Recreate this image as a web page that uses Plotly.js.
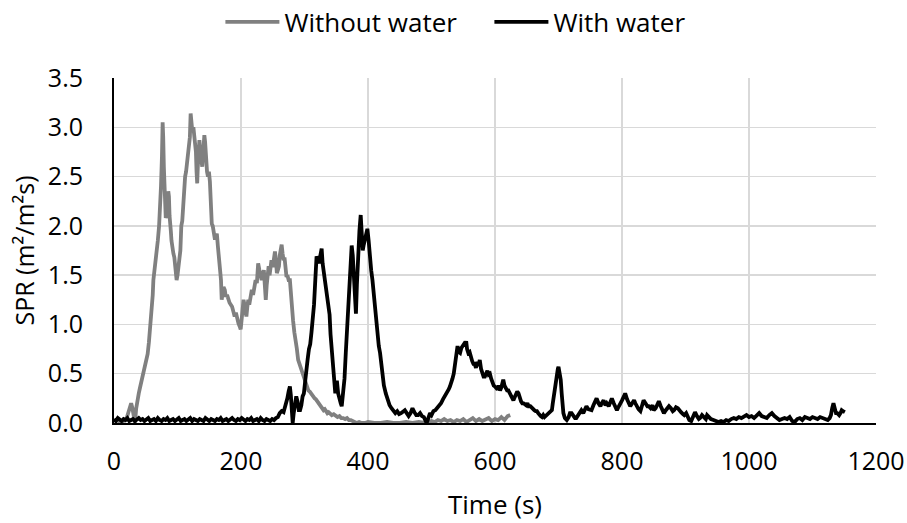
<!DOCTYPE html>
<html>
<head>
<meta charset="utf-8">
<script src="https://cdn.plot.ly/plotly-3.0.1.min.js"></script>
<style>html,body{margin:0;padding:0;background:#fff;}#chart{width:907px;height:523px;}</style>
</head>
<body>
<div id="chart"></div>
<script>
// ---- Data ----
const seriesNames = ["Without water", "With water"];

const tWithout = [0,5,10,15,20,23,25,27,29,31,33,35,37,39,41,43,45,47,49,51,53,55,57,59,61,62,64,66,67,69,71,72.5,74,75.5,76.6,77.5,78.5,79.5,80.5,81.5,82.5,83.5,84.5,85.5,86.5,87.5,88.5,89.5,90.5,92,93.5,95,96.5,97.5,98.6,100,101.5,103,104.5,106,107.5,109,110.5,112,113.5,115,116.5,118,119.5,120.7,122,123.5,125,126.5,128,129,130,131,132,133,134.5,136,137.5,139,140.5,142.3,143.5,145,146.5,148,149.5,151,152.5,154,155.5,157,159,160.5,162,163.5,165,167,168.5,169.6,171,172.5,174.5,176,178,180,182,184,186,188,190,192,194,196,198,199.5,201,202.5,204,205.5,207,208.5,210,211.5,213,215,217,219,221,223,225,227,229,231,232.5,234,236,237.5,239,240.5,242,243.5,245,246.5,248,250,251.5,253.5,255,256.5,258,259.8,261,262.5,264,265.5,267,268.5,270,271.7,273,275,277,278.5,280,282,284,286,288,290,292,294,296,298,300,302,304,306,308,310,312,314,316,318,320,322,324,326,328,330,332,334,336,338,340,343,346,349,352,355,358,361,364,367,370,373,376,379,382,386,390,395,400,410,420,430,440,450,460,470,480,490,500,505,510,515,520,525,530,535,540,545,550,555,560,565,570,575,580,585,590,595,600,605,610,615,620,624];
const sprWithout = [0.02,0.03,0.01,0.02,0.05,0.12,0.18,0.2,0.15,0.05,0.0,0.15,0.25,0.3,0.36,0.42,0.5,0.55,0.58,0.64,0.7,0.82,0.95,1.1,1.3,1.45,1.55,1.7,1.76,1.85,2.0,2.15,2.4,2.7,3.05,2.9,2.6,2.45,2.2,2.08,2.1,2.3,2.25,2.35,2.3,2.1,2.05,1.95,1.85,1.75,1.72,1.68,1.58,1.48,1.45,1.5,1.62,1.72,1.75,2.0,2.05,2.2,2.4,2.5,2.55,2.65,2.8,2.85,2.9,3.14,3.0,2.95,3.0,2.9,2.85,2.75,2.55,2.43,2.6,2.8,2.87,2.75,2.65,2.6,2.75,2.92,2.85,2.65,2.55,2.5,2.55,2.45,2.2,2.02,2.0,1.95,1.86,1.9,1.92,1.8,1.7,1.59,1.45,1.25,1.3,1.38,1.35,1.28,1.3,1.25,1.22,1.2,1.18,1.13,1.08,1.12,1.05,1.01,0.98,0.95,1.05,1.15,1.25,1.2,1.12,1.08,1.18,1.25,1.2,1.3,1.35,1.3,1.4,1.45,1.42,1.62,1.55,1.5,1.45,1.5,1.55,1.4,1.25,1.4,1.55,1.59,1.5,1.6,1.65,1.58,1.65,1.74,1.65,1.52,1.55,1.59,1.7,1.75,1.81,1.72,1.65,1.68,1.55,1.48,1.5,1.45,1.45,1.3,1.15,1.04,0.92,0.85,0.75,0.64,0.6,0.55,0.5,0.47,0.44,0.4,0.37,0.33,0.32,0.3,0.28,0.27,0.25,0.24,0.22,0.2,0.19,0.17,0.15,0.13,0.14,0.12,0.1,0.11,0.1,0.08,0.09,0.07,0.06,0.07,0.05,0.05,0.04,0.05,0.03,0.03,0.02,0.01,0.0,0.01,0.0,0.0,0.01,0.0,0.0,0.01,0.0,0.0,0.01,0.0,0.01,0.0,0.02,0.01,0.03,0.02,0.04,0.02,0.03,0.01,0.03,0.02,0.04,0.01,0.03,0.05,0.02,0.04,0.02,0.03,0.05,0.02,0.04,0.03,0.06,0.03,0.07,0.08];

const tWith = [0,3,6,9,12,15,18,21,24,27,30,33,36,39,42,45,48,51,54,57,60,63,66,69,72,75,78,81,84,87,90,93,96,99,102,105,108,111,114,117,120,123,126,129,132,135,138,141,144,147,150,153,156,159,162,165,168,171,174,177,180,183,186,189,192,195,198,201,204,207,210,213,216,219,222,225,228,231,234,237,240,243,246,249,252,255,258,261,264,267,269,271,273,275,277,278.5,280,281.4,283,285,287,289,291,293,295,297,299,301,303,305,307,309,311,313,315,317,319,321,323,325,327,328.5,330,332,334,336,338,339.5,341,343,345,347,348.5,350,351,353,355,357,358.6,360,361.5,363,365,367,369,371,373,374.3,376,377,378.5,380,381,382.5,384,385,386.5,388.5,390,391.7,393,395,397,399,401,403,405,407,408.5,410,412.6,415,417,419,421,423,425,428,431,434,437,440,443,446,449,452,455,458,461,464,467,470,473,476,479,482,485,488,490,492.4,495,497.6,500,503,506,509,512,515,518,521,524,527,529,531,533,535,537,539,541,543,545,547,549,551,553,554.6,556,558,560,562,564,566,568,570,572,574,576,578,580,582,584,586,588,590,592,594,596,598,600,602,604,606,608,610,612,613,615,617,619,621,623,625,627,629,631,633,635,637,639,641,643,645,647,649,651,653,655.6,658,660,662,664,666,668,670,672,674,676,678,680,682,684,686,688,689.6,691,693,695,697,699,700,701.5,703.5,705,706.5,707.7,710,713,716,718,720.6,723,726,728,731,734,736,739,742,744,747,750,752,755,758,760,763,766,768,771,774,776,779,782,784,787,790,792,795,798,800,803,805,808,811,813,816,819,821,824,826,829,831,834,837,840,842,845,848,850,853,856,858,861,864,866,869,872,874,877,880,882,885,888,890,893,896,898,901,903,906,909,911,913,915,918,921,923,926,929,932,934,937,940,944,948,952,956,960,964,968,972,976,980,984,988,992,996,1000,1004,1008,1012,1016,1020,1024,1028,1032,1036,1040,1044,1048,1052,1056,1060,1064,1068,1072,1076,1080,1084,1088,1092,1096,1100,1104,1108,1112,1116,1120,1124,1127,1129,1131,1133,1135,1137,1139,1142,1144,1146,1148,1151];
const sprWith = [0.04,0.02,0.05,0.03,0.02,0.04,0.03,0.05,0.02,0.03,0.04,0.02,0.03,0.05,0.03,0.04,0.02,0.03,0.05,0.02,0.03,0.04,0.02,0.05,0.03,0.02,0.04,0.03,0.05,0.02,0.03,0.04,0.02,0.03,0.05,0.02,0.03,0.04,0.02,0.03,0.05,0.02,0.04,0.03,0.02,0.04,0.03,0.02,0.05,0.03,0.02,0.04,0.03,0.02,0.04,0.03,0.05,0.02,0.03,0.04,0.02,0.03,0.05,0.03,0.02,0.04,0.03,0.05,0.03,0.02,0.04,0.03,0.05,0.02,0.03,0.04,0.02,0.05,0.03,0.02,0.04,0.03,0.02,0.04,0.03,0.05,0.06,0.1,0.12,0.11,0.15,0.2,0.25,0.32,0.37,0.28,0.1,0.0,0.1,0.2,0.27,0.22,0.13,0.13,0.18,0.27,0.3,0.42,0.57,0.65,0.75,0.8,0.92,1.05,1.2,1.45,1.69,1.65,1.62,1.7,1.77,1.62,1.55,1.45,1.38,1.3,1.15,1.1,0.9,0.71,0.55,0.35,0.3,0.4,0.43,0.3,0.23,0.2,0.17,0.25,0.3,0.45,0.71,0.95,1.25,1.45,1.6,1.8,1.7,1.59,1.4,1.2,1.11,1.4,1.7,1.79,1.95,2.11,1.95,1.75,1.8,1.87,1.92,1.97,1.85,1.65,1.55,1.45,1.35,1.2,0.98,0.85,0.78,0.71,0.6,0.48,0.38,0.3,0.23,0.18,0.15,0.13,0.1,0.12,0.09,0.1,0.12,0.13,0.1,0.07,0.1,0.15,0.11,0.08,0.08,0.1,0.07,0.06,0.03,0.0,0.05,0.1,0.08,0.12,0.13,0.15,0.18,0.2,0.24,0.27,0.3,0.34,0.37,0.4,0.45,0.5,0.62,0.75,0.78,0.72,0.71,0.76,0.79,0.8,0.78,0.83,0.75,0.71,0.72,0.66,0.63,0.6,0.6,0.56,0.62,0.58,0.64,0.55,0.5,0.47,0.47,0.5,0.53,0.49,0.5,0.45,0.4,0.38,0.37,0.36,0.34,0.38,0.33,0.36,0.42,0.44,0.38,0.34,0.33,0.33,0.3,0.27,0.25,0.23,0.26,0.3,0.32,0.3,0.25,0.22,0.2,0.2,0.19,0.18,0.2,0.17,0.17,0.15,0.14,0.13,0.12,0.12,0.1,0.08,0.07,0.06,0.08,0.06,0.07,0.08,0.1,0.1,0.12,0.13,0.2,0.3,0.4,0.5,0.55,0.57,0.52,0.44,0.3,0.18,0.1,0.05,0.03,0.06,0.1,0.1,0.07,0.05,0.05,0.08,0.11,0.13,0.1,0.15,0.17,0.14,0.13,0.13,0.18,0.22,0.25,0.2,0.17,0.2,0.23,0.18,0.2,0.17,0.22,0.25,0.2,0.15,0.13,0.17,0.2,0.23,0.27,0.3,0.24,0.2,0.17,0.2,0.23,0.2,0.16,0.14,0.12,0.18,0.23,0.2,0.17,0.17,0.15,0.18,0.13,0.15,0.2,0.22,0.17,0.13,0.1,0.13,0.15,0.17,0.15,0.12,0.13,0.16,0.15,0.13,0.11,0.09,0.08,0.1,0.06,0.03,0.02,0.05,0.1,0.11,0.07,0.04,0.05,0.08,0.06,0.04,0.08,0.06,0.04,0.03,0.02,0.01,0.02,0.01,0.03,0.02,0.04,0.05,0.04,0.06,0.05,0.07,0.08,0.06,0.07,0.05,0.08,0.1,0.07,0.06,0.05,0.08,0.1,0.07,0.05,0.03,0.04,0.05,0.04,0.06,0.02,0.01,0.04,0.05,0.03,0.06,0.05,0.04,0.06,0.05,0.04,0.06,0.05,0.04,0.03,0.05,0.08,0.15,0.2,0.15,0.1,0.1,0.08,0.1,0.13,0.12,0.11];

const xTicks = [0,200,400,600,800,1000,1200];
const yTicks = [0,0.5,1,1.5,2,2.5,3,3.5];
const xTitle = "Time (s)";
const yTitle = "SPR (m²/m²s)";

// ---- Chart ----
const FONT = "Open Sans, Noto Sans, sans-serif";
const traces = [
  {x: tWithout, y: sprWithout, name: seriesNames[0], type: "scatter", mode: "lines",
   line: {color: "#808080", width: 3.8}},
  {x: tWith, y: sprWith, name: seriesNames[1], type: "scatter", mode: "lines",
   line: {color: "#000000", width: 3.8}}
];

const layout = {
  width: 907, height: 523,
  margin: {l: 114, r: 31, t: 78, b: 100, pad: 0},
  paper_bgcolor: "#ffffff", plot_bgcolor: "#ffffff",
  font: {family: FONT, size: 25, color: "#000000"},
  showlegend: true,
  legend: {orientation: "h", xref: "container", yref: "container", x: 0.243, y: 0.958,
           xanchor: "left", yanchor: "middle", font: {family: FONT, size: 26, color: "#000"},
           itemwidth: 54, entrywidth: 200, bgcolor: "rgba(0,0,0,0)"},
  xaxis: {range: [0, 1200], tickvals: xTicks, ticktext: xTicks.map(String),
          showgrid: true, gridcolor: "#d9d9d9", gridwidth: 1.5,
          zeroline: false, showline: true, linecolor: "#000", linewidth: 2,
          ticks: "", ticklabelstandoff: 15,
          tickfont: {family: FONT, size: 25, color: "#000"},
          title: {text: xTitle, standoff: 20, font: {family: FONT, size: 26, color: "#000"}},
          fixedrange: true},
  yaxis: {range: [0, 3.5], tickvals: yTicks, tickformat: ".1f",
          showgrid: true, gridcolor: "#d9d9d9", gridwidth: 1.5,
          zeroline: false, showline: true, linecolor: "#000", linewidth: 2,
          ticks: "", ticklabelstandoff: 24,
          tickfont: {family: FONT, size: 25, color: "#000"},
          title: {text: yTitle, standoff: 6, font: {family: FONT, size: 25, color: "#000"}},
          fixedrange: true}
};

Plotly.newPlot("chart", traces, layout, {displayModeBar: false, staticPlot: true});
</script>
</body>
</html>
